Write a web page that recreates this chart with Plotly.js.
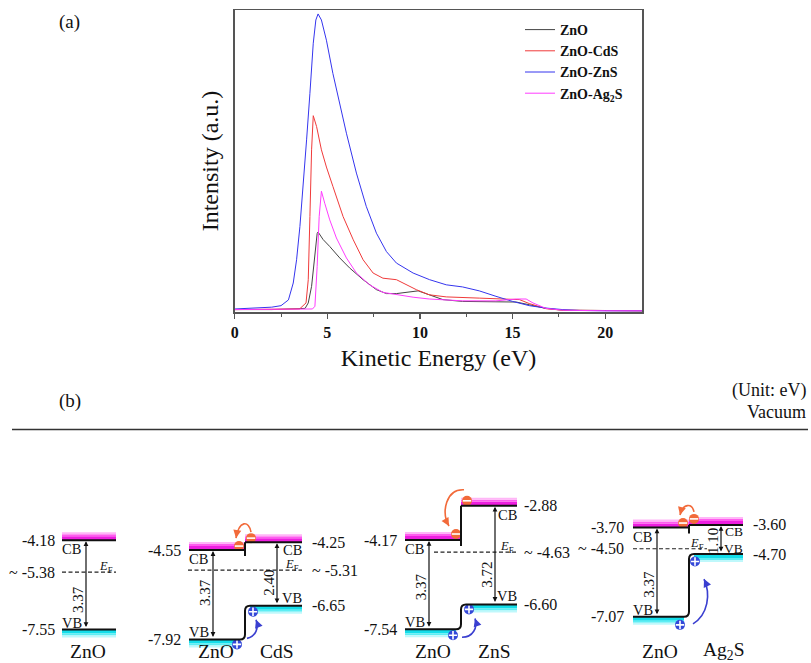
<!DOCTYPE html>
<html><head><meta charset="utf-8">
<script src="https://cdn.plot.ly/plotly-3.0.1.min.js"></script>
<style>html,body{margin:0;padding:0;background:#fff}#chart{width:811px;height:663px}</style>
</head><body><div id="chart"></div>
<script>
// ===== (a) secondary-electron spectra =====
const seriesNames = ['ZnO', 'ZnO-CdS', 'ZnO-ZnS', 'ZnO-Ag<sub>2</sub>S'];
const seriesColors = ['#444444', '#f03a3a', '#3535ee', '#ff3cff'];

const energyZnO = [0, 2, 3.8, 3.97, 4.15, 4.33, 4.45, 4.5, 4.77, 5.13, 5.67, 6.2, 6.93, 7.65, 8.19, 8.73, 9.27, 9.9, 10.5, 11.24, 12.3, 14.1, 15.19, 15.9, 16.8, 17.7, 20, 22];
const intensityZnO = [0.008, 0.008, 0.012, 0.03, 0.085, 0.195, 0.26, 0.265, 0.24, 0.217, 0.179, 0.146, 0.107, 0.074, 0.061, 0.061, 0.066, 0.07, 0.057, 0.041, 0.035, 0.035, 0.033, 0.024, 0.012, 0.006, 0.004, 0.004];

const energyCdS = [0, 2, 3.5, 3.85, 3.97, 4.06, 4.15, 4.24, 4.42, 4.68, 4.95, 5.3, 5.85, 6.4, 6.93, 7.47, 8.0, 8.73, 9.27, 9.8, 10.5, 11.42, 13.2, 14.5, 15.37, 15.9, 16.8, 17.7, 20, 22];
const intensityCdS = [0.008, 0.008, 0.01, 0.03, 0.107, 0.316, 0.537, 0.65, 0.614, 0.537, 0.48, 0.416, 0.316, 0.239, 0.173, 0.129, 0.112, 0.107, 0.09, 0.074, 0.057, 0.05, 0.046, 0.044, 0.041, 0.028, 0.011, 0.006, 0.004, 0.004];

const energyZnS = [0, 1, 2, 2.5, 2.9, 3.16, 3.34, 3.52, 3.7, 3.88, 4.06, 4.24, 4.38, 4.5, 4.68, 4.95, 5.3, 5.67, 6.03, 6.57, 7.1, 7.65, 8.19, 8.73, 9.63, 10.52, 11.42, 12.3, 13.2, 14.1, 15.0, 15.9, 16.8, 17.7, 18.6, 20, 22];
const intensityZnS = [0.010, 0.012, 0.016, 0.021, 0.04, 0.096, 0.173, 0.283, 0.416, 0.57, 0.724, 0.89, 0.967, 0.987, 0.967, 0.90, 0.79, 0.69, 0.592, 0.46, 0.35, 0.261, 0.20, 0.162, 0.129, 0.107, 0.09, 0.083, 0.07, 0.052, 0.035, 0.021, 0.013, 0.008, 0.005, 0.004, 0.004];

const energyAg2S = [0, 2, 4.2, 4.33, 4.45, 4.56, 4.68, 4.86, 5.13, 5.49, 6.03, 6.57, 7.28, 8.0, 8.73, 9.63, 10.5, 12.3, 14.1, 15.19, 15.73, 16.1, 16.8, 17.7, 20, 22];
const intensityAg2S = [0.008, 0.008, 0.01, 0.019, 0.15, 0.316, 0.40, 0.36, 0.305, 0.245, 0.179, 0.129, 0.09, 0.065, 0.057, 0.049, 0.043, 0.037, 0.037, 0.043, 0.043, 0.03, 0.012, 0.006, 0.004, 0.004];

const xTickValues = [0, 5, 10, 15, 20];

// ===== (b) band energy levels (eV vs vacuum) =====
const partnerNames = ['', 'CdS', 'ZnS', 'Ag<sub>2</sub>S'];
const znoCB = [-4.18, -4.55, -4.17, -3.70];
const znoVB = [-7.55, -7.92, -7.54, -7.07];
const fermiLevel = [-5.38, -5.31, -4.63, -4.50];
const partnerCB = [null, -4.25, -2.88, -3.60];
const partnerVB = [null, -6.65, -6.60, -4.70];

// ===== layout geometry =====
const W = 811, H = 663;
const PX = 26.5;             // px per eV (diagram drawn to scale)
const Y_VACUUM = 429.5;      // pixel row of E = 0
const eAtPx = y => (Y_VACUUM - y) / PX;
const Y_AXIS_TOP = 440;
const E_BOTTOM = eAtPx(H), E_TOP = eAtPx(Y_AXIS_TOP);
const FONT = 'Liberation Serif';
const geom = [
  {zno: [62, 116], arrow: 86, leftLab: 56, ef: [62, 116], efSide: 'left', name: 88, gapFrac: 0.67},
  {zno: [189, 245], part: [245, 302], xj: 245, arrow: 213, parrow: 277, leftLab: 182, rightLab: 311, ef: [188, 302], efSide: 'right', name: 216, pname: 277, gapFrac: 0.48, pGapFrac: 0.64, pCBOff: 8},
  {zno: [405, 461], part: [461, 517], xj: 461, arrow: 429, parrow: 495, leftLab: 398, rightLab: 523, ef: [434, 517], efSide: 'right', name: 433, pname: 494, gapFrac: 0.53, pGapFrac: 0.70},
  {zno: [633, 689], part: [689, 743], xj: 689, arrow: 657, parrow: 721, leftLab: 625, rightLab: 752, ef: [633, 707], efSide: 'left', name: 660, pname: 724, gapFrac: 0.64, pGapFrac: 0.55, pCBOff: 7, pVBOff: 6, pSmall: true}
];
// decorations: [dx from junction, dy px (down +) from band, band key]
const deco = [null,
  {e: [[-6, -4, 'zc'], [6, -4, 'pc']], h: [[-8, 5, 'zv'], [8, 6, 'pv']],
   eArc: [[6, -10, 'pc'], [4, -22, 'pc'], [-6, -22, 'pc'], [-9, -12, 'zc']],
   hArc: [[2, -1, 'zv'], [11, -3, 'zv'], [14, 22, 'pv'], [11, 14, 'pv']]},
  {e: [[-5, -6, 'zc'], [6, -5, 'pc']], h: [[-8, 6, 'zv'], [8, 5, 'pv']],
   eArc: [[3, -16, 'pc'], [-15, -17, 'pc'], [-20, -28, 'zc'], [-12, -14, 'zc']],
   hArc: [[1, 8, 'zv'], [12, 8, 'zv'], [17, 23, 'pv'], [14, 14, 'pv']]},
  {e: [[-6, -4.5, 'zc'], [5, -6, 'pc']], h: [[-9, 8, 'zv'], [6, 7.5, 'pv']],
   eArc: [[5, -13, 'pc'], [3, -22, 'pc'], [-6, -24.5, 'zc'], [-9, -12.5, 'zc']],
   hArc: [[4, 7, 'zv'], [19, -2, 'zv'], [22, 40, 'pv'], [15, 25, 'pv']]}
];
const down = (E, px) => E - (px || 0) / PX;

// ---------- traces ----------
const energies = [energyZnO, energyCdS, energyZnS, energyAg2S];
const intens = [intensityZnO, intensityCdS, intensityZnS, intensityAg2S];
const traces = seriesNames.map((n, i) => ({
  x: energies[i], y: intens[i], type: 'scatter', mode: 'lines', name: n,
  line: {color: seriesColors[i], width: 1}, xaxis: 'x', yaxis: 'y', hoverinfo: 'skip'
}));

const shapes = [], ann = [];
function txt(x, y, text, o = {}) {
  ann.push(Object.assign({x, y, xref: 'x2', yref: 'y2', text, showarrow: false,
    xanchor: 'center', yanchor: 'middle', borderpad: 0,
    font: {family: FONT, size: o.size || 16, color: '#111'}}, o.a || {}));
}
function band(x0, x1, E, kind) {
  const s = kind === 'CB' ? 1 : -1;
  const layers = kind === 'CB'
    ? [[0, 4, '#ee1ee0'], [4, 6, '#ff5cef'], [6, 8, '#ffb6f7']]
    : [[0, 4, '#14dde9'], [4, 6, '#5deef4'], [6, 8, '#bff8fb']];
  layers.forEach(([a, b, c]) => shapes.push({type: 'rect', xref: 'x2', yref: 'y2', x0, x1,
    y0: E + s * a / PX, y1: E + s * b / PX, fillcolor: c, line: {width: 0}, layer: 'below'}));
  shapes.push({type: 'line', xref: 'x2', yref: 'y2', x0, x1, y0: E, y1: E, line: {color: '#111', width: 2}});
}
function vArrow(x, Etop, Ebot) {
  ann.push({x, y: Etop, ax: x, ay: Ebot, xref: 'x2', yref: 'y2', axref: 'x2', ayref: 'y2',
    text: '', showarrow: true, arrowhead: 2, startarrowhead: 2, arrowside: 'end+start',
    arrowsize: 0.8, startarrowsize: 0.8, arrowwidth: 1.2, arrowcolor: '#111', standoff: 1, startstandoff: 1});
}
const fmt = v => v.toFixed(2);

const eX = [], eY = [], hX = [], hY = [];
geom.forEach((g, i) => {
  const hasP = partnerCB[i] !== null;
  const zc = znoCB[i], zv = znoVB[i], ef = fermiLevel[i];
  const pc = partnerCB[i], pv = partnerVB[i];
  const lvl = {zc, zv, pc, pv};
  band(g.zno[0], hasP ? g.xj : g.zno[1], zc, 'CB');
  band(g.zno[0], hasP ? g.xj - 5 : g.zno[1], zv, 'VB');
  shapes.push({type: 'line', xref: 'x2', yref: 'y2', x0: g.ef[0], x1: g.ef[1], y0: ef, y1: ef,
    line: {color: '#222', width: 1.2, dash: '4px,2.5px'}});
  txt(g.ef[1] - 2, down(ef, -5), '<i>E</i><sub>F</sub>', {size: 12.5, a: {xanchor: 'right'}});
  txt(g.leftLab, zc, fmt(zc), {a: {xanchor: 'right'}});
  txt(g.leftLab, zv, fmt(zv), {a: {xanchor: 'right'}});
  txt(g.zno[0] - 1, down(zc, 9), 'CB', {size: 14.5, a: {xanchor: 'left'}});
  txt(g.zno[0] - 1, down(zv, -7), 'VB', {size: 14.5, a: {xanchor: 'left'}});
  const efTxt = '~ ' + fmt(ef);
  if (g.efSide === 'left') txt(g.leftLab, ef, efTxt, {a: {xanchor: 'right'}});
  else txt(g.rightLab, ef, efTxt, {a: {xanchor: 'left'}});
  vArrow(g.arrow, zc, zv);
  txt(g.arrow - 8, zc + g.gapFrac * (zv - zc), fmt(zc - zv), {size: 15, a: {textangle: -90}});
  txt(g.name, eAtPx(651), 'ZnO', {size: 19.5});
  if (!hasP) return;
  band(g.xj, g.part[1], pc, 'CB');
  band(g.xj + 5, g.part[1], pv, 'VB');
  shapes.push({type: 'line', xref: 'x2', yref: 'y2', x0: g.xj, x1: g.xj, y0: pc, y1: down(zc, 6),
    line: {color: '#111', width: 2}});
  const r = 5 / PX;
  shapes.push({type: 'path', xref: 'x2', yref: 'y2', line: {color: '#111', width: 2},
    path: `M${g.xj - 5},${zv} Q${g.xj},${zv} ${g.xj},${zv + r} L${g.xj},${pv - r} Q${g.xj},${pv} ${g.xj + 5},${pv}`});
  txt(g.rightLab, pc, fmt(pc), {a: {xanchor: 'left'}});
  txt(g.rightLab, pv, fmt(pv), {a: {xanchor: 'left'}});
  const labSize = g.pSmall ? 13.5 : 14.5;
  txt(g.part[1] + 1, down(pc, g.pCBOff || 9), 'CB', {size: labSize, a: {xanchor: 'right'}});
  txt(g.part[1] + 1, down(pv, -(g.pVBOff || 8)), 'VB', {size: labSize, a: {xanchor: 'right'}});
  vArrow(g.parrow, pc, pv);
  txt(g.parrow - 8, pc + g.pGapFrac * (pv - pc), fmt(pc - pv), {size: 15, a: {textangle: -90}});
  txt(g.pname, eAtPx(651), partnerNames[i], {size: 19.5});
  const d = deco[i];
  const P = ([dx, dy, k]) => [g.xj + dx, down(lvl[k], dy)];
  d.e.forEach(p => { const q = P(p); eX.push(q[0]); eY.push(q[1]); });
  d.h.forEach(p => { const q = P(p); hX.push(q[0]); hY.push(q[1]); });
  [['eArc', '#f26a3a'], ['hArc', '#3a3fd0']].forEach(([key, col]) => {
    const pts = d[key].map(P);
    shapes.push({type: 'path', xref: 'x2', yref: 'y2', line: {color: col, width: 1.6},
      path: `M${pts[0][0]},${pts[0][1]} C${pts[1][0]},${pts[1][1]} ${pts[2][0]},${pts[2][1]} ${pts[3][0]},${pts[3][1]}`});
    const dxp = pts[3][0] - pts[2][0], dyp = -(pts[3][1] - pts[2][1]) * PX;
    const L = Math.hypot(dxp, dyp) || 1;
    ann.push({x: pts[3][0], y: pts[3][1], xref: 'x2', yref: 'y2', ax: -dxp / L * 7, ay: -dyp / L * 7,
      text: '', showarrow: true, arrowhead: 2, arrowsize: 1, arrowwidth: 1.6, arrowcolor: col, standoff: 0});
  });
});

traces.push({x: eX, y: eY, xaxis: 'x2', yaxis: 'y2', mode: 'markers', showlegend: false, hoverinfo: 'skip',
  marker: {size: 10, color: '#f26a3a', line: {width: 0}}});
traces.push({x: eX, y: eY, xaxis: 'x2', yaxis: 'y2', mode: 'markers', showlegend: false, hoverinfo: 'skip',
  marker: {size: 6, symbol: 'line-ew', color: '#fff', line: {color: '#fff', width: 1.6}}});
traces.push({x: hX, y: hY, xaxis: 'x2', yaxis: 'y2', mode: 'markers', showlegend: false, hoverinfo: 'skip',
  marker: {size: 10, color: '#3448d8', line: {width: 0}}});
traces.push({x: hX, y: hY, xaxis: 'x2', yaxis: 'y2', mode: 'markers', showlegend: false, hoverinfo: 'skip',
  marker: {size: 6, symbol: 'cross-thin', color: '#fff', line: {color: '#fff', width: 1.6}}});

// vacuum rule (E = 0)
shapes.push({type: 'line', xref: 'paper', yref: 'paper', x0: 12 / W, x1: 808 / W,
  y0: 1 - Y_VACUUM / H, y1: 1 - Y_VACUUM / H, line: {color: '#333', width: 1.5}});

const pann = (x, y, text, size, xa) => ann.push({x: x / W, y: 1 - y / H, xref: 'paper', yref: 'paper', text,
  showarrow: false, xanchor: xa || 'center', yanchor: 'middle', font: {family: FONT, size, color: '#111'}});
pann(69, 22, '(a)', 19);
pann(70, 401, '(b)', 19);
pann(808, 390, '(Unit: eV)', 18, 'right');
pann(808, 412, 'Vacuum', 18, 'right');

const axisCol = '#555';
const layout = {
  width: W, height: H, margin: {l: 0, r: 0, t: 0, b: 0},
  paper_bgcolor: '#fff', plot_bgcolor: 'rgba(0,0,0,0)',
  showlegend: true,
  legend: {x: 520 / W, y: 1 - 14 / H, xanchor: 'left', yanchor: 'top', bgcolor: 'rgba(0,0,0,0)',
    traceorder: 'normal',
    font: {family: FONT, size: 14, color: '#111', weight: 'bold'}},
  xaxis: {domain: [234.7 / W, 642.3 / W], range: [0, 22], anchor: 'y',
    showline: true, linecolor: axisCol, linewidth: 1.5, mirror: true,
    ticks: 'outside', ticklen: 5, tickwidth: 1.2, tickcolor: axisCol,
    tickvals: xTickValues, ticktext: xTickValues.map(String),
    minor: {dtick: 2.5, tick0: 0, ticks: 'outside', ticklen: 3, tickcolor: axisCol, tickwidth: 1},
    showgrid: false, zeroline: false,
    tickfont: {family: FONT, size: 16, color: '#111', weight: 'bold'},
    title: {text: 'Kinetic Energy (eV)', font: {family: FONT, size: 24, color: '#111'}, standoff: 9}},
  yaxis: {domain: [1 - 312 / H, 1 - 10 / H], range: [0, 1], anchor: 'x',
    showline: true, linecolor: axisCol, linewidth: 1.5, mirror: true,
    ticks: '', showticklabels: false, showgrid: false, zeroline: false,
    title: {text: 'Intensity (a.u.)', font: {family: FONT, size: 24, color: '#111'}, standoff: 8}},
  xaxis2: {domain: [0, 1], range: [0, W], anchor: 'y2', visible: false, fixedrange: true},
  yaxis2: {domain: [0, (H - Y_AXIS_TOP) / H], range: [E_BOTTOM, E_TOP], anchor: 'x2', visible: false, fixedrange: true},
  shapes, annotations: ann
};

Plotly.newPlot('chart', traces, layout, {displayModeBar: false, staticPlot: true});
</script></body></html>
